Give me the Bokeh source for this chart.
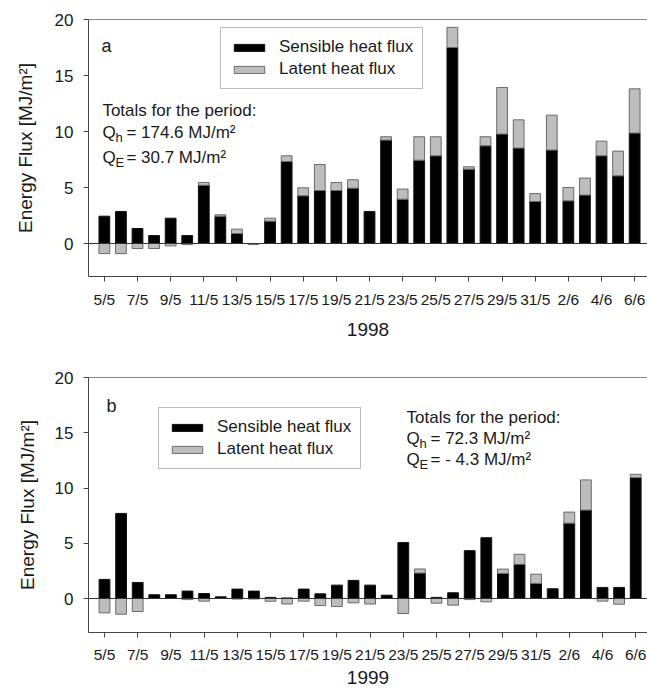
from bokeh.plotting import figure
from bokeh.models import (Range1d, FixedTicker, LinearAxis, Span, Label,
                          Legend, LegendItem, ColumnDataSource)
from bokeh.layouts import column
from bokeh.embed import file_html
from bokeh.resources import INLINE

# ---------------- data ----------------
dates = ["5/5", "6/5", "7/5", "8/5", "9/5", "10/5", "11/5", "12/5", "13/5", "14/5",
         "15/5", "16/5", "17/5", "18/5", "19/5", "20/5", "21/5", "22/5", "23/5", "24/5",
         "25/5", "26/5", "27/5", "28/5", "29/5", "30/5", "31/5", "1/6", "2/6", "3/6",
         "4/6", "5/6", "6/6"]
tick_labels = ["5/5", "7/5", "9/5", "11/5", "13/5", "15/5", "17/5", "19/5", "21/5",
               "23/5", "25/5", "27/5", "29/5", "31/5", "2/6", "4/6", "6/6"]

sens_1998 = [2.44, 2.86, 1.34, 0.71, 2.26, 0.71, 5.20, 2.44, 0.89, 0.00,
             1.99, 7.32, 4.26, 4.73, 4.73, 4.94, 2.86, 9.23, 3.96, 7.44,
             7.83, 17.50, 6.64, 8.72, 9.77, 8.52, 3.75, 8.34, 3.81, 4.32,
             7.83, 6.04, 9.86]
lat_1998 = [-0.90, -0.90, -0.45, -0.45, -0.21, -0.10, 0.25, 0.12, 0.39, -0.10,
            0.27, 0.51, 0.71, 2.32, 0.72, 0.75, 0.00, 0.30, 0.90, 2.09,
            1.70, 1.80, 0.21, 0.81, 4.16, 2.52, 0.71, 3.12, 1.19, 1.52,
            1.31, 2.21, 3.95]

sens_1999 = [1.73, 7.70, 1.45, 0.34, 0.34, 0.67, 0.45, 0.15, 0.85, 0.67,
             0.10, 0.05, 0.85, 0.42, 1.21, 1.64, 1.21, 0.30, 5.06, 2.30,
             0.10, 0.52, 4.33, 5.50, 2.27, 3.09, 1.36, 0.88, 6.82, 8.00,
             1.00, 1.00, 10.94]
lat_1999 = [-1.30, -1.42, -1.18, 0.00, 0.00, -0.10, -0.24, 0.00, -0.05, -0.05,
            -0.25, -0.50, -0.24, -0.64, -0.73, -0.39, -0.50, 0.00, -1.36, 0.37,
            -0.42, -0.60, -0.10, -0.30, 0.39, 0.91, 0.84, 0.00, 1.00, 2.73,
            -0.24, -0.52, 0.30]

totals_1998 = ("174.6", "30.7")
totals_1999 = ("72.3", "- 4.3")

FONT = "Liberation Sans"
TXT = "#1a1a1a"
AX = "#444444"
GRAY = "#bdbdbd"
GRAY_LINE = "#6a6a6a"


def make_panel(sens, lat, letter, year, totals, cfg):
    n = len(dates)
    xs = list(range(n))
    g_bottom = [s if l > 0 else l for s, l in zip(sens, lat)]
    g_top = [s + l if l > 0 else 0 for s, l in zip(sens, lat)]
    src = ColumnDataSource(dict(x=xs, sens=sens, gb=g_bottom, gt=g_top))

    px0, dpx, py0, dpy = cfg["map"]
    X = lambda px: (px - px0) / dpx
    Y = lambda py: (py0 - py) / dpy

    p = figure(width=647, height=cfg["height"], output_backend="svg",
               toolbar_location=None,
               x_range=Range1d(X(cfg["left"]), X(647)),
               y_range=Range1d(cfg["ybot"], 20),
               min_border_top=cfg["top"], min_border_bottom=cfg["bottom"],
               min_border_left=cfg["left"], min_border_right=0,
               outline_line_color=None, background_fill_color="white",
               border_fill_color="white")
    p.grid.visible = False

    r_s = p.vbar(x="x", width=0.65, bottom=0, top="sens", source=src,
                 fill_color="black", line_color="#111111", line_width=1)
    r_l = p.vbar(x="x", width=0.65, bottom="gb", top="gt", source=src,
                 fill_color=GRAY, line_color=GRAY_LINE, line_width=1)

    p.add_layout(Span(location=0, dimension="width", line_color="#333333",
                      line_width=1))

    # axes
    xa = p.xaxis[0]
    xa.ticker = FixedTicker(ticks=list(range(0, n, 2)))
    xa.major_label_overrides = {i: lab for i, lab in zip(range(0, n, 2), tick_labels)}
    xa.axis_label = year
    ya = p.yaxis[0]
    ya.ticker = FixedTicker(ticks=[0, 5, 10, 15, 20])
    ya.axis_label = "Energy Flux [MJ/m\u00b2]"
    for ax in (xa, ya):
        ax.axis_line_color = AX
        ax.major_tick_line_color = AX
        ax.major_tick_out = 5
        ax.major_tick_in = 0
        ax.minor_tick_line_color = None
        ax.major_label_text_font = FONT
        ax.major_label_text_color = TXT
        ax.axis_label_text_font = FONT
        ax.axis_label_text_font_style = "normal"
        ax.axis_label_text_color = TXT
        ax.axis_label_text_font_size = "19px"
    xa.major_label_text_font_size = "15.5px"
    ya.major_label_text_font_size = "17px"
    xa.major_label_standoff = cfg["xstand"]
    xa.axis_label_standoff = cfg["xlabstand"]
    ya.major_label_standoff = 10
    ya.axis_label_standoff = cfg["ylabstand"]

    top_ax = LinearAxis(ticker=FixedTicker(ticks=[]), axis_line_color="#8a8a8a",
                        major_tick_line_color=None, minor_tick_line_color=None,
                        major_label_text_font_size="0px")
    p.add_layout(top_ax, "above")

    # legend
    leg = Legend(items=[LegendItem(label="Sensible heat flux", renderers=[r_s]),
                        LegendItem(label="Latent heat flux", renderers=[r_l])],
                 location=cfg["legloc"], orientation="vertical",
                 label_text_font=FONT, label_text_font_size="17px",
                 label_text_color=TXT, glyph_width=38, glyph_height=9,
                 label_standoff=11, padding=9, spacing=2, label_height=20,
                 margin=0, border_line_color="#777777", border_line_width=1,
                 background_fill_color="white", background_fill_alpha=1.0)
    p.add_layout(leg)

    # panel letter
    lx, ly = cfg["letter"]
    p.add_layout(Label(x=X(lx), y=Y(ly), text=letter, text_font=FONT,
                       text_font_size="18px", text_color=TXT,
                       text_baseline="middle", text_align="left"))

    # totals text
    tx, ty1, ty2, ty3 = cfg["totals"]
    fs = "17px"
    p.add_layout(Label(x=X(tx), y=Y(ty1), text="Totals for the period:",
                       text_font=FONT, text_font_size=fs, text_color=TXT,
                       text_baseline="middle"))
    for yy, sub, val in ((ty2, "h", totals[0]), (ty3, "E", totals[1])):
        p.add_layout(Label(x=X(tx), y=Y(yy), text="Q", text_font=FONT,
                           text_font_size=fs, text_color=TXT,
                           text_baseline="middle"))
        p.add_layout(Label(x=X(tx), y=Y(yy), x_offset=13, y_offset=-5,
                           text=sub, text_font=FONT, text_font_size="13px",
                           text_color=TXT, text_baseline="middle"))
        p.add_layout(Label(x=X(tx), y=Y(yy), x_offset=24,
                           text="= " + val + " MJ/m\u00b2", text_font=FONT,
                           text_font_size=fs, text_color=TXT,
                           text_baseline="middle"))
    return p


cfg_a = dict(height=350, top=19, bottom=74, left=83, ybot=20 - 257 / 11.2,
             map=(99, 16.72, 243, 11.2), xstand=9, xlabstand=12, ylabstand=16,
             legloc=(132, 187), letter=(96, 45), totals=(97, 110, 132, 157))
cfg_b = dict(height=344, top=27, bottom=62, left=88, ybot=20 - 255 / 11.05,
             map=(104, 16.6, 598 - 350, 11.05), xstand=8, xlabstand=5, ylabstand=14,
             legloc=(70, 163), letter=(106, 405 - 350),
             totals=(406, 417 - 350, 438 - 350, 459 - 350))

pa = make_panel(sens_1998, lat_1998, "a", "1998", totals_1998, cfg_a)
pb = make_panel(sens_1999, lat_1999, "b", "1999", totals_1999, cfg_b)

layout = column(pa, pb, spacing=0)
open("out.html", "w").write(file_html(layout, INLINE))
